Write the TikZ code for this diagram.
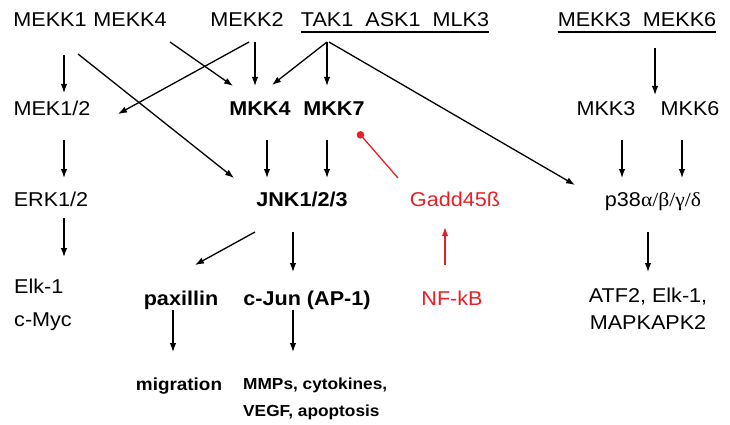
\documentclass[tikz,border=0pt]{standalone}
\usepackage{fontspec}
\setmainfont{Liberation Sans}[FakeStretch=1.08]
\newfontfamily\greekfont{Liberation Serif}[FakeStretch=1.08]
\usepackage{xcolor}
\usetikzlibrary{calc, arrows.meta}

\definecolor{inhibred}{RGB}{230,32,38}

\tikzset{
  prot/.style={inner sep=0pt, anchor=base, font=\fontsize{20}{24}\selectfont},
  kinase/.style={prot, font=\fontsize{20}{24}\selectfont\bfseries},
  effect/.style={inner sep=0pt, font=\fontsize{16}{27}\selectfont\bfseries},
  link/.style={->, line width=1.3pt},
  inhib/.style={-{Circle[length=7.5pt]}, line width=1.3pt, draw=inhibred},
}

\begin{document}
\begin{tikzpicture}[x=1pt, y=-1pt, >={Latex[length=9pt, width=6.5pt]}]

        \useasboundingbox (0,0) rectangle (730,425);

        %% MAP3K level
        \node (mekkA) [prot] at (50,27) {MEKK1};
        \node (mekkB) [prot] at (130,27) {MEKK4};
        \node (mekkTwo) [prot] at (247,27) {MEKK2};
        \node (tak) [prot] at (395,27) {TAK1\ \ ASK1\ \ MLK3};
        \node (mekkThree) [prot] at (637,27) {MEKK3\ \ MEKK6};
        \draw [line width=1.2pt] ($(tak.base west)+(0,5)$) -- ($(tak.base east)+(0,5)$);
        \draw [line width=1.2pt] ($(mekkThree.base west)+(0,5)$) -- ($(mekkThree.base east)+(0,5)$);

        %% MAP2K level
        \node (mek) [prot] at (52,116) {MEK1/2};
        \node (mkkFour) [kinase] at (260,116) {MKK4};
        \node (mkkSeven) [kinase] at (334,116) {MKK7};
        \node (mkkThree) [prot] at (606,116) {MKK3};
        \node (mkkSix) [prot] at (690,116) {MKK6};

        %% MAPK level
        \node (erk) [prot] at (51,206) {ERK1/2};
        \node (jnk) [kinase] at (302,206) {JNK1/2/3};
        \node (gadd) [prot, text=inhibred] at (455,206) {Gadd45ß};
        \node (pthree) [prot] at (653,206) {p38{\greekfont α/β/γ/δ}};

        %% Targets
        \node (elk) [prot, anchor=north west, align=left, font=\fontsize{20}{33}\selectfont] at (14,279) {Elk-1\\c-Myc};
        \node (paxillin) [kinase] at (181,305) {paxillin};
        \node (cjun) [kinase] at (307,305) {c-Jun (AP-1)};
        \node (nfkb) [prot, text=inhibred] at (452,305) {NF-kB};
        \node (atf) [prot, anchor=north, align=center, font=\fontsize{20}{27}\selectfont] at (648,288) {ATF2, Elk-1,\\MAPKAPK2};

        %% Outcomes
        \node (migration) [effect, anchor=base, font=\fontsize{17.5}{20}\selectfont\bfseries] at (179,390) {migration};
        \node (mmps) [effect, anchor=north west, align=left] at (243,378) {MMPs, cytokines,\\VEGF, apoptosis};

        %% Arrows
        \draw [link] ($(mekkA.base)+(14,28)$) -- ($(mek.base)+(12,-23)$);
        \draw [link] ($(mekkA.base)+(28,27)$) -- ($(jnk.base)+(-68,-28)$);
        \draw [link] ($(mekkB.base)+(40,15)$) -- ($(mkkFour.base)+(-27,-30)$);
        \draw [link] ($(mekkTwo.base)+(8,15)$) -- ($(mkkFour.base)+(-5,-30)$);
        \draw [link] ($(mekkTwo.base)+(2,15)$) -- ($(mek.base)+(66,-2)$);
        \draw [link] ($(tak.base)+(-68,15)$) -- ($(mkkFour.base)+(12,-31)$);
        \draw [link] ($(tak.base)+(-68,15)$) -- ($(mkkSeven.base)+(-7,-30)$);
        \draw [link] ($(tak.base)+(-66,15)$) -- ($(pthree.base)+(-78,-21)$);
        \draw [link] ($(mekkThree.base)+(18,21)$) -- ($(mkkSix.base)+(-35,-21)$);

        \draw [link] ($(mek.base)+(12,24)$) -- ($(erk.base)+(13,-28)$);
        \draw [link] ($(mkkFour.base)+(7,24)$) -- ($(jnk.base)+(-35,-28)$);
        \draw [link] ($(mkkSeven.base)+(-7,24)$) -- ($(jnk.base)+(25,-28)$);
        \draw [link] ($(mkkThree.base)+(16,24)$) -- ($(pthree.base)+(-31,-28)$);
        \draw [link] ($(mkkSix.base)+(-8,24)$) -- ($(pthree.base)+(29,-28)$);

        \draw [link] ($(erk.base)+(13,12)$) -- ($(elk.north west)+(50,-22)$);
        \draw [link] ($(jnk.base)+(-47,26)$) -- ($(paxillin.base)+(14,-40)$);
        \draw [link] ($(jnk.base)+(-9,26)$) -- ($(cjun.base)+(-14,-33)$);
        \draw [link] ($(pthree.base)+(-5,26)$) -- ($(atf.north)+(0,-16)$);

        \draw [link] ($(paxillin.base)+(-8,5)$) -- ($(migration.base)+(-6,-38)$);
        \draw [link] ($(cjun.base)+(-14,5)$) -- ($(mmps.north west)+(50,-26)$);

        %% Gadd45b branch
        \draw [link, draw=inhibred] ($(nfkb.base)+(-7,-40)$) -- ($(gadd.base)+(-10,21)$);
        \draw [inhib] ($(gadd.base)+(-57,-28)$) -- ($(mkkSeven.base)+(24,16)$);

\end{tikzpicture}
\end{document}
